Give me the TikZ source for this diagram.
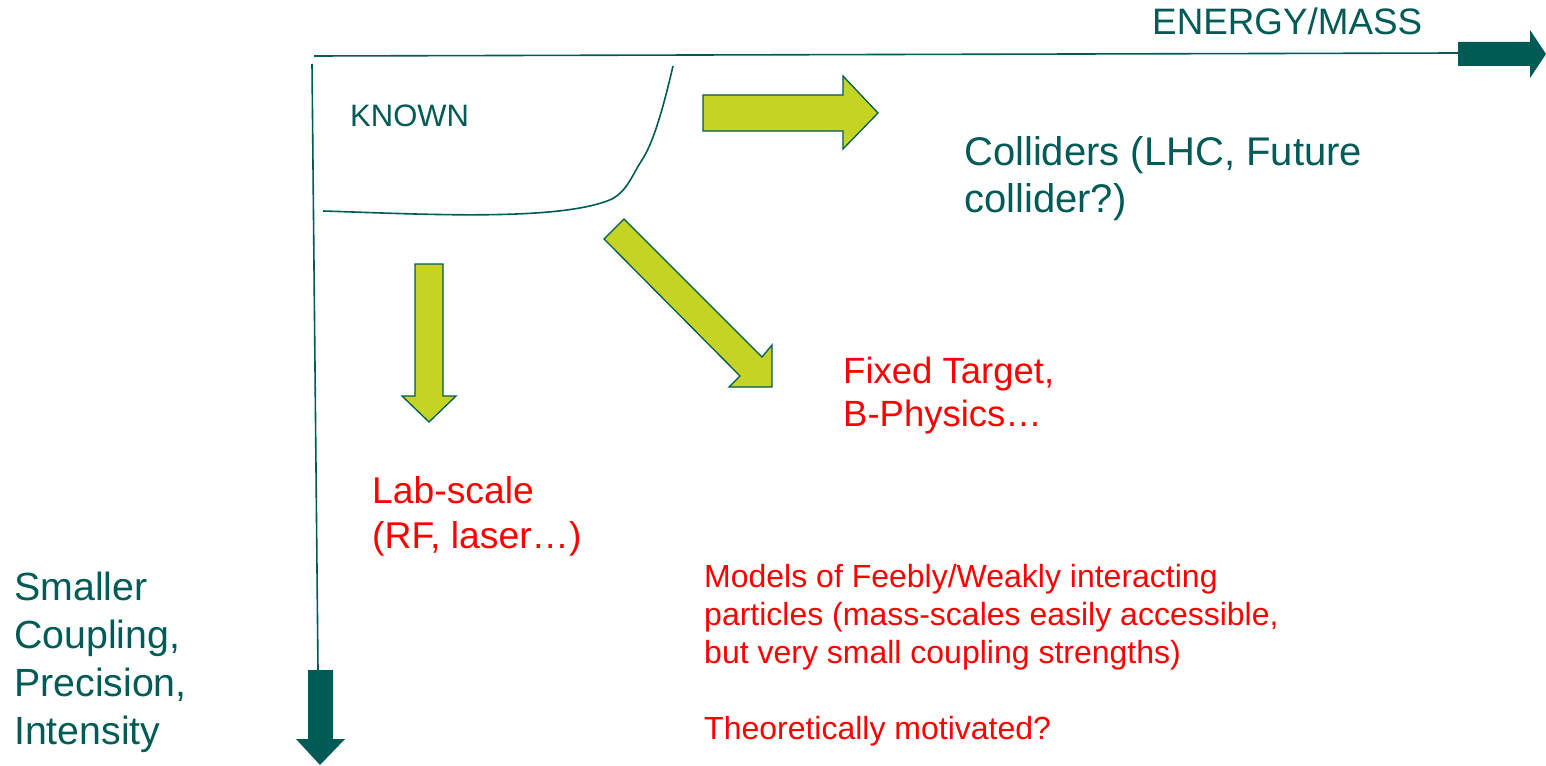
\documentclass[tikz,border=0pt]{standalone}
\usepackage{fontspec}
\setmainfont{Liberation Sans}
\definecolor{steal}{RGB}{0,90,85}
\definecolor{slime}{RGB}{197,212,35}
\tikzset{
	bigarrow/.style={fill=slime, draw=steal, line width=1.3pt, line join=miter},
	axisarrow/.style={fill=steal, draw=none},
	axisline/.style={draw=steal, line width=1.6pt},
	tealtext/.style={text=steal, inner sep=0, anchor=base west, align=left},
	redtext/.style={text=red, inner sep=0, anchor=base west, align=left}
}
\begin{document}
\begin{tikzpicture}[x=1pt, y=-1pt]
		\useasboundingbox (0,0) rectangle (1546,765);
		% axes
		\draw[axisline] (314,56) -- (1458,53);
		\draw[axisline] (312,64) -- (318,670);
		\fill[axisarrow] (1458,42) -- (1530,42) -- (1530,30) -- (1546,54) -- (1530,78) -- (1530,66) -- (1458,66) -- cycle;
		\fill[axisarrow] (308,670) -- (333,670) -- (333,739) -- (345,739) -- (320,765) -- (296,739) -- (308,739) -- cycle;
		% known region
		\draw[axisline] (323,211) .. controls (420,214) and (560,222) .. (612,199) .. controls (628,190) and (632,175) .. (642,160) .. controls (655,140) and (665,100) .. (673,66);
		% block arrows
		\draw[bigarrow] (703,95) -- (843,95) -- (843,76) -- (878,113) -- (843,149) -- (843,131) -- (703,131) -- cycle;
		\draw[bigarrow] (415,264) -- (443,264) -- (443,396) -- (456,396) -- (429,422) -- (402,396) -- (415,396) -- cycle;
		\draw[bigarrow] (604,239) -- (624,219) -- (762,357) -- (772,345) -- (772,387) -- (729,387) -- (740,376) -- cycle;
		% labels (base = last line)
		\node (energy) at (1152,35) [tealtext, font=\fontsize{36.8}{43}\selectfont] {ENERGY/MASS};
		\node (known) at (350,126) [tealtext, font=\fontsize{31}{37}\selectfont] {KNOWN};
		\node (coll) at (964,212) [tealtext, font=\fontsize{40}{47}\selectfont] {Colliders (LHC, Future\\collider?)};
		\node (fixed) at (843,426) [redtext, font=\fontsize{36.5}{43}\selectfont] {Fixed Target,\\B-Physics…};
		\node (lab) at (372,548) [redtext, font=\fontsize{37.3}{45}\selectfont] {Lab-scale\\(RF, laser…)};
		\node (coupl) at (14,744) [tealtext, font=\fontsize{39.3}{48}\selectfont] {Smaller\\Coupling,\\Precision,\\Intensity};
		\node (models) at (704,739) [redtext, font=\fontsize{32}{38}\selectfont] {Models of Feebly/Weakly interacting\\particles (mass-scales easily accessible,\\but very small coupling strengths)\\ \\Theoretically motivated?};
	\end{tikzpicture}
\end{document}
